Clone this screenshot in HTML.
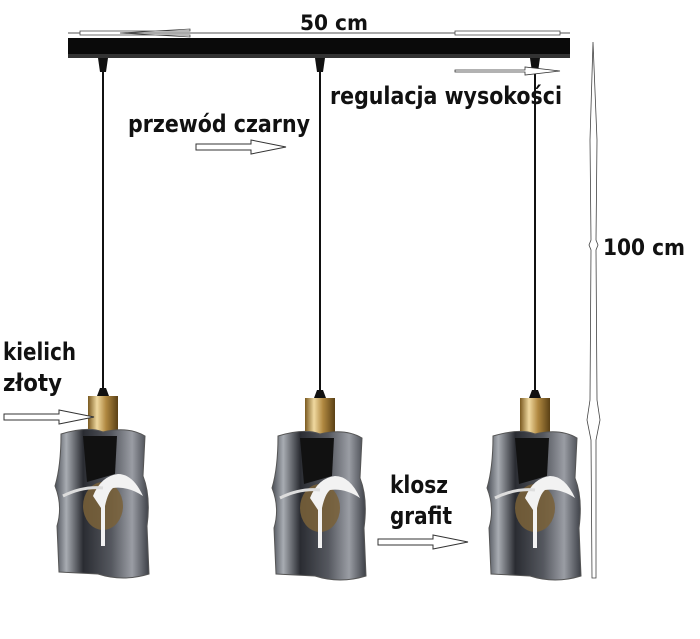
<!DOCTYPE html>
<html><head><meta charset="utf-8"><style>
body{margin:0;background:#fff}
svg text{font-family:"DejaVu Sans","Liberation Sans",sans-serif;font-weight:bold;fill:#111}
</style></head><body>
<svg width="700" height="634" viewBox="0 0 700 634" xmlns="http://www.w3.org/2000/svg">
<defs>
<linearGradient id="gold" x1="0" x2="1"><stop offset="0" stop-color="#7a5a20"/><stop offset="0.3" stop-color="#f0d9a0"/><stop offset="0.6" stop-color="#b08840"/><stop offset="1" stop-color="#5a4015"/></linearGradient>
<linearGradient id="glass" x1="0" x2="1"><stop offset="0" stop-color="#4a4e56"/><stop offset="0.12" stop-color="#a8acb2"/><stop offset="0.3" stop-color="#2a2c32"/><stop offset="0.6" stop-color="#55585f"/><stop offset="0.82" stop-color="#9a9da4"/><stop offset="1" stop-color="#3c3f46"/></linearGradient>
<g id="lamp">
<path d="M-3,-8 L3,-8 L6,0 L-6,0Z" fill="#111"/>
<rect x="-15" y="0" width="30" height="36" fill="url(#gold)"/>
<path d="M-42,38 Q-15,30 0,36 Q25,30 42,40 L40,80 Q48,100 44,130 L46,178 Q20,186 -5,178 L-44,176 L-46,130 Q-40,110 -48,90 Q-42,70 -42,38Z" fill="url(#glass)" stroke="#555" stroke-width="1"/>
<path d="M-20,40 L14,40 L12,78 L-16,86Z" fill="#111"/>
<ellipse cx="0" cy="110" rx="20" ry="24" fill="#7a6238" opacity="0.85"/>
<path d="M-10,100 Q-2,80 15,78 Q30,78 40,100 Q25,90 10,92 Q5,96 2,110 L2,150 L-2,150 L-2,112Z" fill="#f2f2f2"/>
<path d="M-40,100 Q-20,90 0,92" stroke="#ddd" stroke-width="3" fill="none"/>
</g>
<g id="harr"><path d="M0,-3 L55,-3 L55,-7 L90,0 L55,7 L55,3 L0,3Z" fill="#fff" stroke="#333" stroke-width="1"/></g>
</defs>
<line x1="68" y1="33" x2="570" y2="33" stroke="#555" stroke-width="1"/>
<path d="M80,31 L190,31 L190,29 L120,33 L190,37 L190,35 L80,35Z" fill="#fff" stroke="#444" stroke-width="0.8"/>
<path d="M455,31 L560,31 L560,35 L455,35Z" fill="#fff" stroke="#444" stroke-width="0.8"/>
<text x="300" y="30" font-size="21" textLength="68" lengthAdjust="spacingAndGlyphs">50 cm</text>
<rect x="68" y="38" width="502" height="20" fill="#0a0a0a"/>
<rect x="68" y="54" width="502" height="4" fill="#333"/>
<g fill="#111">
<path d="M98,58 L108,58 L106,72 L100,72Z"/><path d="M315,58 L325,58 L323,72 L317,72Z"/><path d="M530,58 L540,58 L538,72 L532,72Z"/>
</g>
<g stroke="#111" stroke-width="2">
<line x1="103" y1="72" x2="103" y2="390"/><line x1="320" y1="72" x2="320" y2="390"/><line x1="535" y1="72" x2="535" y2="390"/>
</g>
<use href="#lamp" x="103" y="396"/>
<use href="#lamp" x="320" y="398"/>
<use href="#lamp" x="535" y="398"/>
<path d="M593,42 L597,140 L596,240 L598,245 L596,250 L597,400 L600,420 L596,440 L596,578 L592,578 L591,440 L587,420 L590,400 L591,250 L589,245 L591,240 L590,140Z" fill="#fff" stroke="#444" stroke-width="0.8"/>
<path d="M455,70 L525,70 L525,67 L560,71 L525,75 L525,72 L455,72Z" fill="#fff" stroke="#333" stroke-width="0.8"/>
<use href="#harr" x="196" y="147"/>
<use href="#harr" x="4" y="417"/>
<use href="#harr" x="378" y="542"/>
<text x="330" y="104" font-size="24" textLength="232" lengthAdjust="spacingAndGlyphs">regulacja wysokości</text>
<text x="128" y="132" font-size="24" textLength="182" lengthAdjust="spacingAndGlyphs">przewód czarny</text>
<text x="603" y="255" font-size="22" textLength="82" lengthAdjust="spacingAndGlyphs">100 cm</text>
<text x="3" y="360" font-size="24" textLength="73" lengthAdjust="spacingAndGlyphs">kielich</text>
<text x="3" y="391" font-size="24" textLength="59" lengthAdjust="spacingAndGlyphs">złoty</text>
<text x="390" y="493" font-size="24" textLength="58" lengthAdjust="spacingAndGlyphs">klosz</text>
<text x="390" y="524" font-size="24" textLength="62" lengthAdjust="spacingAndGlyphs">grafit</text>
</svg>
</body></html>
